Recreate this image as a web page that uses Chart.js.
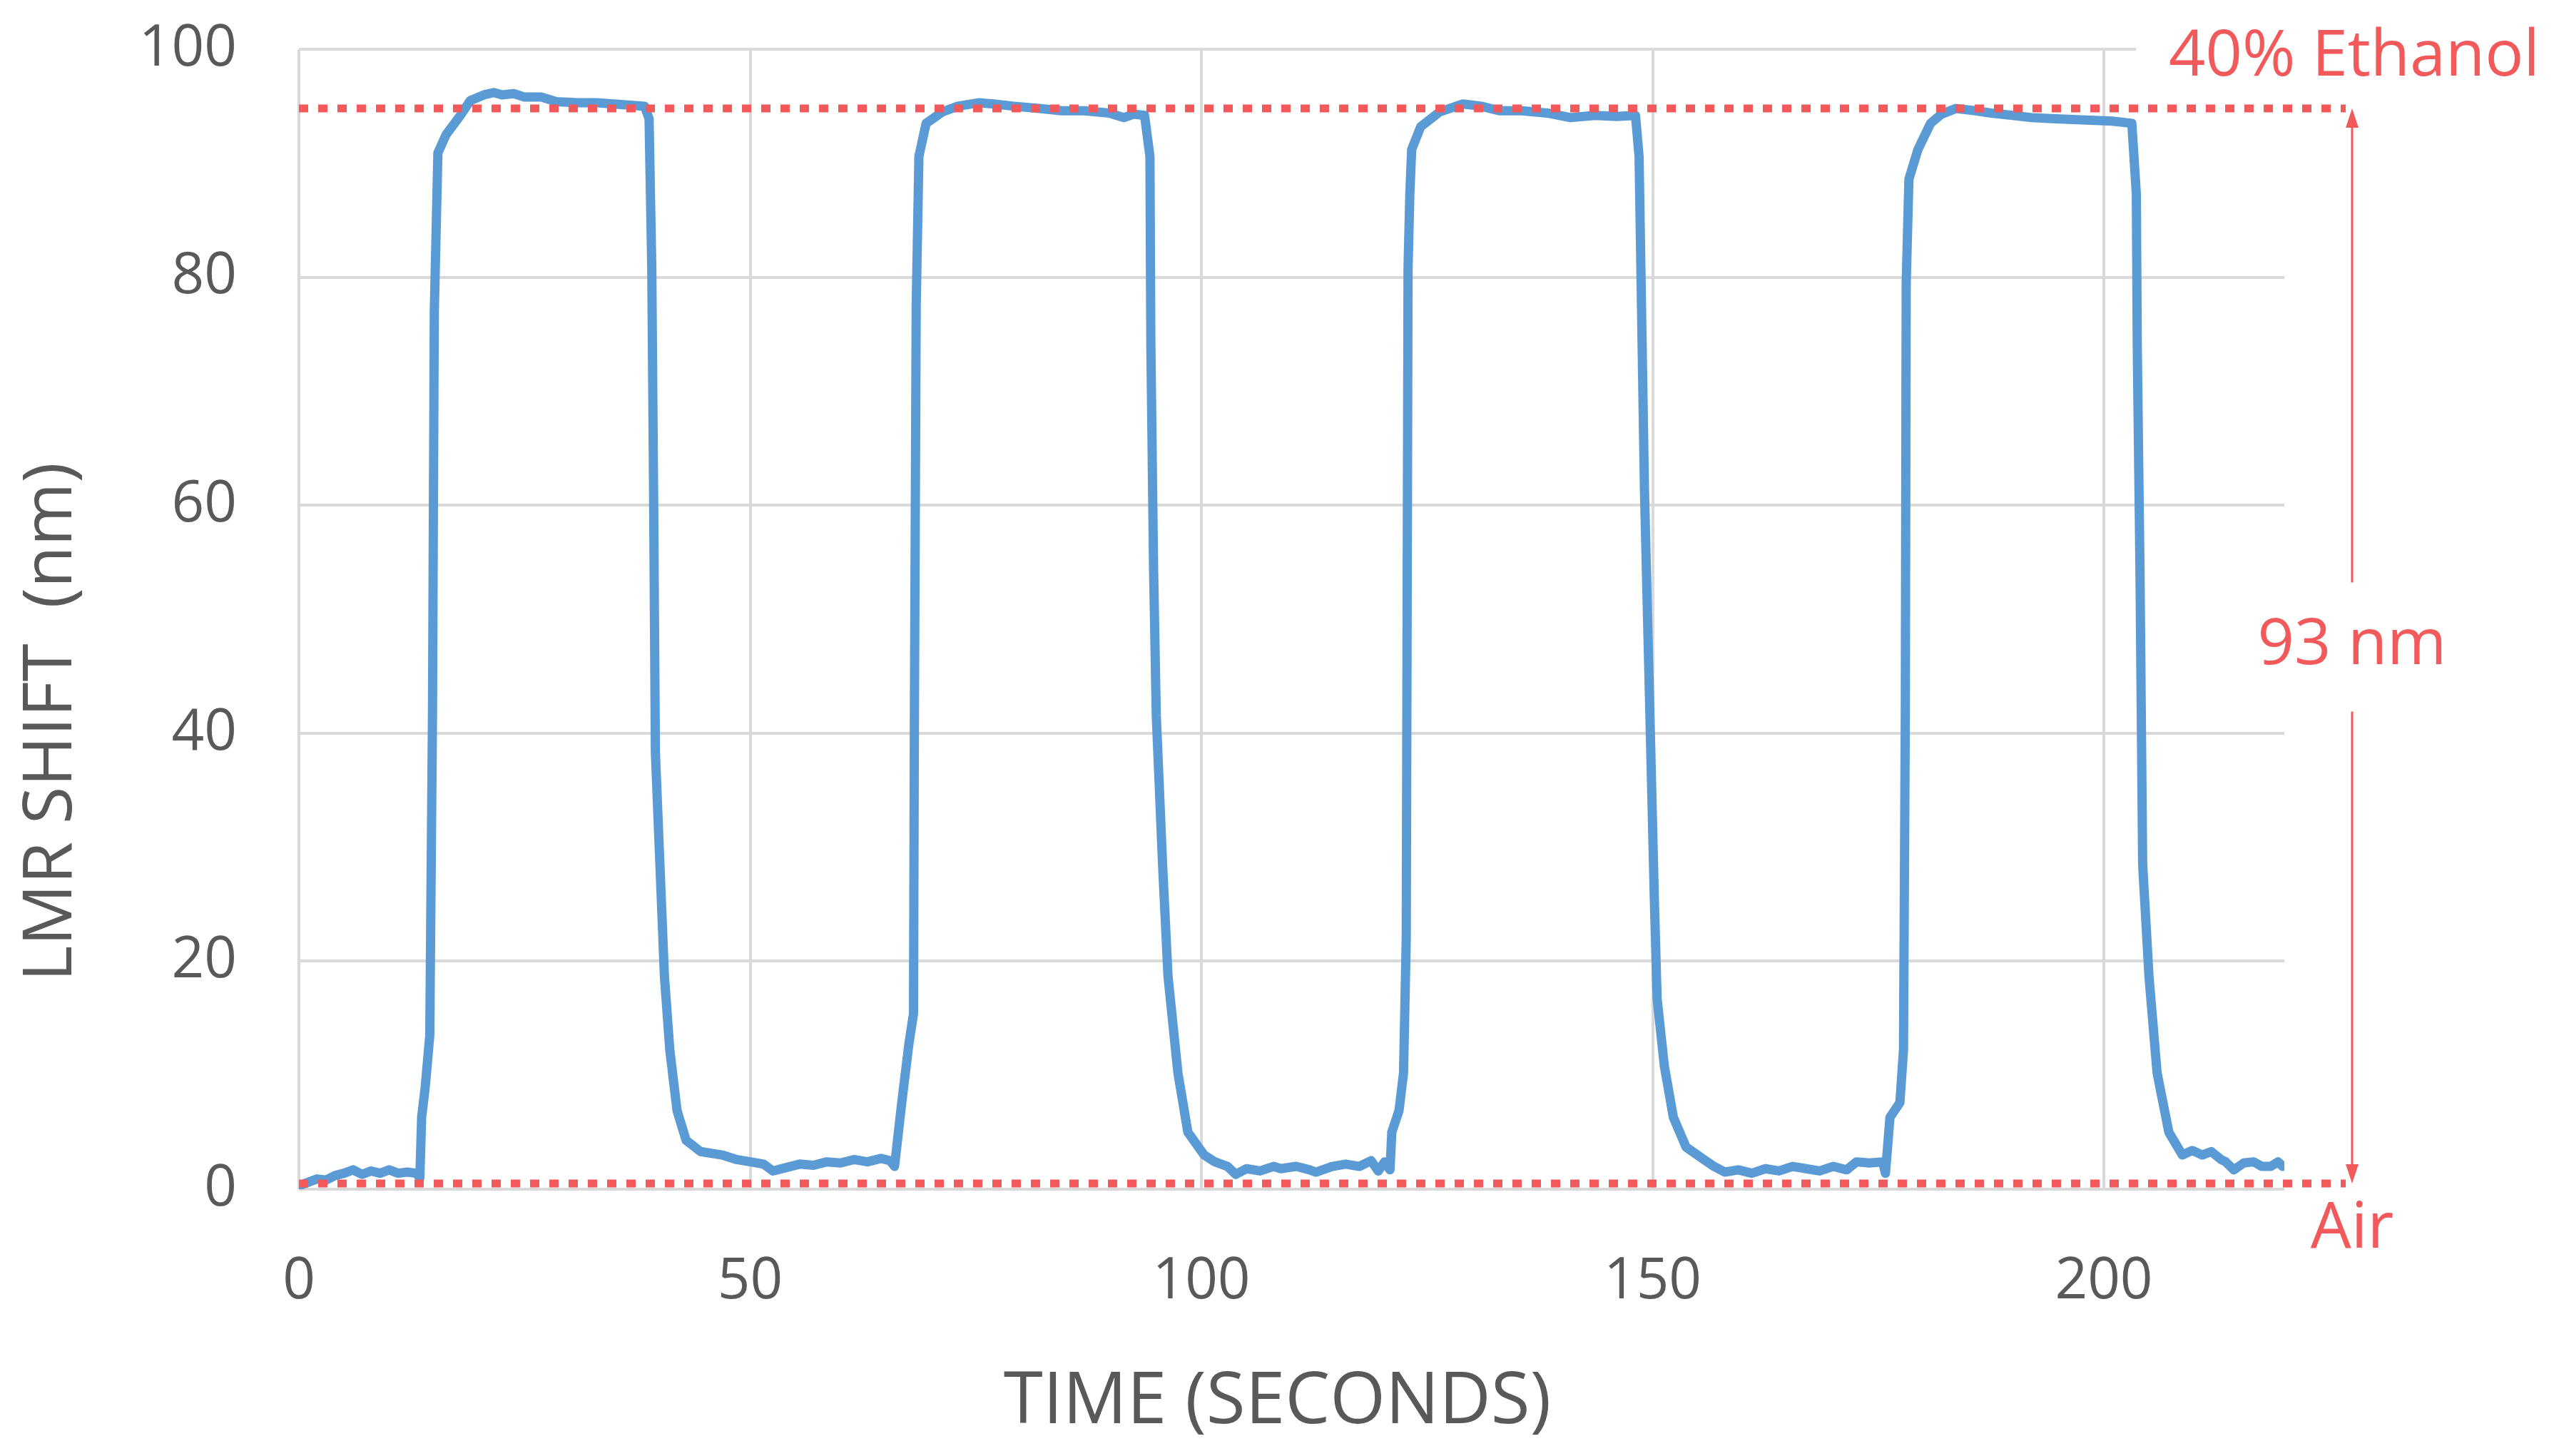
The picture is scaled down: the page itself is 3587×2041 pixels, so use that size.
<!DOCTYPE html>
<html>
<head>
<meta charset="utf-8">
<title>LMR shift vs time</title>
<script src="https://cdn.jsdelivr.net/npm/chart.js@4.4.1/dist/chart.umd.min.js"></script>
<style>
  html, body { margin: 0; padding: 0; background: #fff; }
  #wrap { width: 3587px; height: 2041px; position: relative; }
</style>
</head>
<body>
<div id="wrap"><canvas id="lmrChart"></canvas></div>
<script>
// DATA
const timeSec = [
  0, 1, 2, 3, 4, 5, 6, 7, 8, 9, 10, 11, 12, 13, 13.4, 13.6, 14.0, 14.5, 14.8, 15.0,
  15.4, 16.3, 17.9, 19.0, 20.5, 21.6, 22.5, 23.8, 25.0, 26.9, 28.5, 30.9, 33.0, 34.9, 36.5, 38.3,
  38.8, 39.1, 39.3, 39.5, 40.0, 40.5, 41.1, 41.9, 42.9, 44.5, 46.9, 48.5, 50.0, 51.5, 52.5, 54.0,
  55.5, 57.0, 58.5, 60.0, 61.5, 63.0, 64.5, 65.5, 66.0, 66.8, 67.6, 68.1, 68.2, 68.4, 68.7, 69.5,
  71.3, 73.0, 75.3, 77.0, 79.2, 82.0, 84.5, 87.0, 89.8, 91.4, 92.5, 93.7, 94.3, 94.4, 94.7, 95.0,
  95.7, 96.3, 97.4, 98.5, 100.3, 101.5, 102.9, 103.8, 105.0, 106.5, 108.0, 108.8, 110.5, 112.0, 112.7, 114.5,
  116.0, 117.5, 118.8, 119.6, 120.3, 120.9, 121.1, 121.9, 122.4, 122.7, 122.9, 123.1, 123.3, 124.3, 126.4, 129.0,
  131.0, 133.0, 135.5, 138.3, 140.9, 143.6, 146.0, 148.1, 148.5, 148.7, 149.1, 149.7, 150.2, 150.5, 151.3, 152.3,
  153.7, 155.5, 156.8, 158.0, 159.5, 161.0, 162.5, 164.0, 165.5, 167.0, 168.5, 170.0, 171.5, 172.6, 174.0, 175.5,
  175.8, 176.3, 177.4, 177.8, 178.0, 178.1, 178.4, 179.4, 180.8, 182.0, 183.6, 185.8, 187.5, 189.9, 192.0, 194.6,
  197.5, 200.9, 203.1, 203.6, 203.7, 204.0, 204.3, 205.0, 205.9, 207.2, 208.7, 209.8, 210.9, 211.9, 213.0, 213.5,
  214.4, 215.5, 216.6, 217.5, 218.5, 219.3, 219.8
];
const shiftNm = [
  0.3, 0.6, 0.9, 0.8, 1.2, 1.4, 1.7, 1.3, 1.6, 1.4, 1.7, 1.4, 1.5, 1.4, 1.0, 6.3, 9.0, 13.5, 41.6, 76.9,
  90.9, 92.5, 94.2, 95.5, 96.0, 96.2, 96.0, 96.1, 95.8, 95.8, 95.4, 95.3, 95.3, 95.2, 95.1, 95.0,
  93.9, 80.8, 61.2, 38.3, 28.5, 18.7, 12.2, 6.9, 4.3, 3.3, 3.0, 2.6, 2.4, 2.2, 1.6, 1.9,
  2.2, 2.1, 2.4, 2.3, 2.6, 2.4, 2.7, 2.5, 2.0, 7.6, 12.8, 15.4, 41.6, 77.5, 90.6, 93.5,
  94.5, 95.0, 95.3, 95.2, 95.0, 94.8, 94.6, 94.6, 94.4, 94.0, 94.3, 94.2, 90.6, 74.2, 54.6, 41.6,
  28.5, 18.7, 10.2, 5.0, 3.0, 2.4, 2.0, 1.3, 1.8, 1.6, 2.0, 1.8, 2.0, 1.7, 1.5, 2.0,
  2.2, 2.0, 2.5, 1.6, 2.4, 1.7, 5.0, 6.9, 10.2, 22.0, 80.8, 87.3, 91.2, 93.2, 94.5, 95.2,
  95.0, 94.6, 94.6, 94.4, 94.0, 94.2, 94.1, 94.2, 90.6, 80.8, 61.2, 41.6, 25.2, 16.7, 10.8, 6.3,
  3.7, 2.7, 2.0, 1.5, 1.7, 1.4, 1.8, 1.6, 2.0, 1.8, 1.6, 2.0, 1.7, 2.4, 2.3, 2.4,
  1.4, 6.3, 7.6, 12.2, 41.6, 79.5, 88.6, 91.2, 93.5, 94.3, 94.8, 94.6, 94.4, 94.2, 94.0, 93.9,
  93.8, 93.7, 93.5, 87.3, 74.2, 54.6, 28.5, 18.7, 10.2, 5.0, 3.0, 3.4, 3.0, 3.3, 2.6, 2.4,
  1.7, 2.3, 2.4, 2.0, 2.0, 2.4, 2.0
];
const xTickValues = [0, 50, 100, 150, 200];
const yTickValues = [0, 20, 40, 60, 80, 100];

// annotation levels and texts
const ETHANOL_LEVEL = 94.8;
const AIR_LEVEL = 0.5;
const ETHANOL_LABEL = "40% Ethanol";
const AIR_LABEL = "Air";
const SPAN_LABEL = "93 nm";
const X_TITLE = "TIME (SECONDS)";
const Y_TITLE = "LMR SHIFT  (nm)";

const RED = "#F2595B";
const GREY_TEXT = "#595959";
const GRID = "#D9D9D9";
const FONT = '"Open Sans", "Noto Sans", sans-serif';

const points = timeSec.map((t, i) => ({ x: t, y: shiftNm[i] }));

// red dotted levels, arrow, labels and axis titles
const annotations = {
    id: "annotations",
    afterDatasetsDraw(chart) {
        const { ctx, chartArea } = chart;
        const y = chart.scales.y;
        const yTop = y.getPixelForValue(ETHANOL_LEVEL);
        const yBot = y.getPixelForValue(AIR_LEVEL);
        const lineEnd = chartArea.right + 86;
        const arrowX = chartArea.right + 95;

        ctx.save();

        // white box behind the top label (hides the end of the 100 gridline)
        ctx.fillStyle = "#fff";
        ctx.fillRect(chartArea.right - 208, 0, chart.width, yTop - 12);

        // dotted levels
        ctx.strokeStyle = RED;
        ctx.lineWidth = 11;
        ctx.setLineDash([13, 14]);
        for (const py of [yTop, yBot]) {
            ctx.beginPath();
            ctx.moveTo(chartArea.left, py);
            ctx.lineTo(lineEnd, py);
            ctx.stroke();
        }

        // double arrow with a gap for the text
        const mid = (yTop + yBot) / 2;
        ctx.setLineDash([]);
        ctx.lineWidth = 3;
        ctx.beginPath();
        ctx.moveTo(arrowX, yTop + 20);
        ctx.lineTo(arrowX, mid - 89);
        ctx.moveTo(arrowX, mid + 92);
        ctx.lineTo(arrowX, yBot - 20);
        ctx.stroke();
        ctx.fillStyle = RED;
        ctx.beginPath();
        ctx.moveTo(arrowX, yTop);
        ctx.lineTo(arrowX - 9, yTop + 27);
        ctx.lineTo(arrowX + 9, yTop + 27);
        ctx.closePath();
        ctx.fill();
        ctx.beginPath();
        ctx.moveTo(arrowX, yBot);
        ctx.lineTo(arrowX - 9, yBot - 27);
        ctx.lineTo(arrowX + 9, yBot - 27);
        ctx.closePath();
        ctx.fill();

        ctx.font = "90px " + FONT;
        ctx.textAlign = "center";
        ctx.textBaseline = "middle";
        ctx.fillText(ETHANOL_LABEL, arrowX + 3, yTop - 72);
        ctx.fillText(SPAN_LABEL, arrowX, mid);
        ctx.fillText(AIR_LABEL, arrowX, yBot + 64);

        // axis titles
        ctx.fillStyle = GREY_TEXT;
        ctx.font = "100px " + FONT;
        ctx.fillText(X_TITLE, (chartArea.left + chartArea.right) / 2 - 20, 1967);

        ctx.translate(73, 1012);
        ctx.rotate(-Math.PI / 2);
        ctx.font = "96px " + FONT;
        ctx.fillText(Y_TITLE, 0, 0);

        ctx.restore();
    }
};

new Chart(document.querySelector("#lmrChart").getContext("2d"), {
    type: "line",
    data: {
        datasets: [
            {
                label: "LMR shift",
                data: points,
                borderColor: "#5B9BD5",
                borderWidth: 13,
                borderJoinStyle: "round",
                borderCapStyle: "round",
                tension: 0,
                fill: false,
                pointRadius: 0,
                pointHoverRadius: 0
            }
        ]
    },
    options: {
        responsive: true,
        maintainAspectRatio: false,
        devicePixelRatio: 1,
        animation: false,
        layout: { padding: { left: 0, right: 385, top: 69, bottom: 0 } },
        plugins: {
            legend: { display: false },
            tooltip: { enabled: false }
        },
        scales: {
            x: {
                type: "linear",
                min: 0,
                max: 220,
                afterBuildTicks: (s) => { s.ticks = xTickValues.map(v => ({ value: v })); },
                afterFit: (s) => { s.height = 374; },
                ticks: {
                    padding: 82,
                    color: GREY_TEXT,
                    font: { family: FONT, size: 80 },
                    maxRotation: 0
                },
                grid: { color: GRID, lineWidth: 4, drawTicks: false },
                border: { display: false }
            },
            y: {
                min: 0,
                max: 100,
                afterBuildTicks: (s) => { s.ticks = yTickValues.map(v => ({ value: v })); },
                // tick padding would otherwise be added above the plot too
                afterFit: (s) => { s.width = 419; s.paddingTop = 0; s.paddingBottom = 0; },
                ticks: {
                    padding: 87,
                    color: GREY_TEXT,
                    font: { family: FONT, size: 80 }
                },
                grid: { color: GRID, lineWidth: 4, drawTicks: false },
                border: { display: false }
            }
        }
    },
    plugins: [annotations]
});
</script>
</body>
</html>
